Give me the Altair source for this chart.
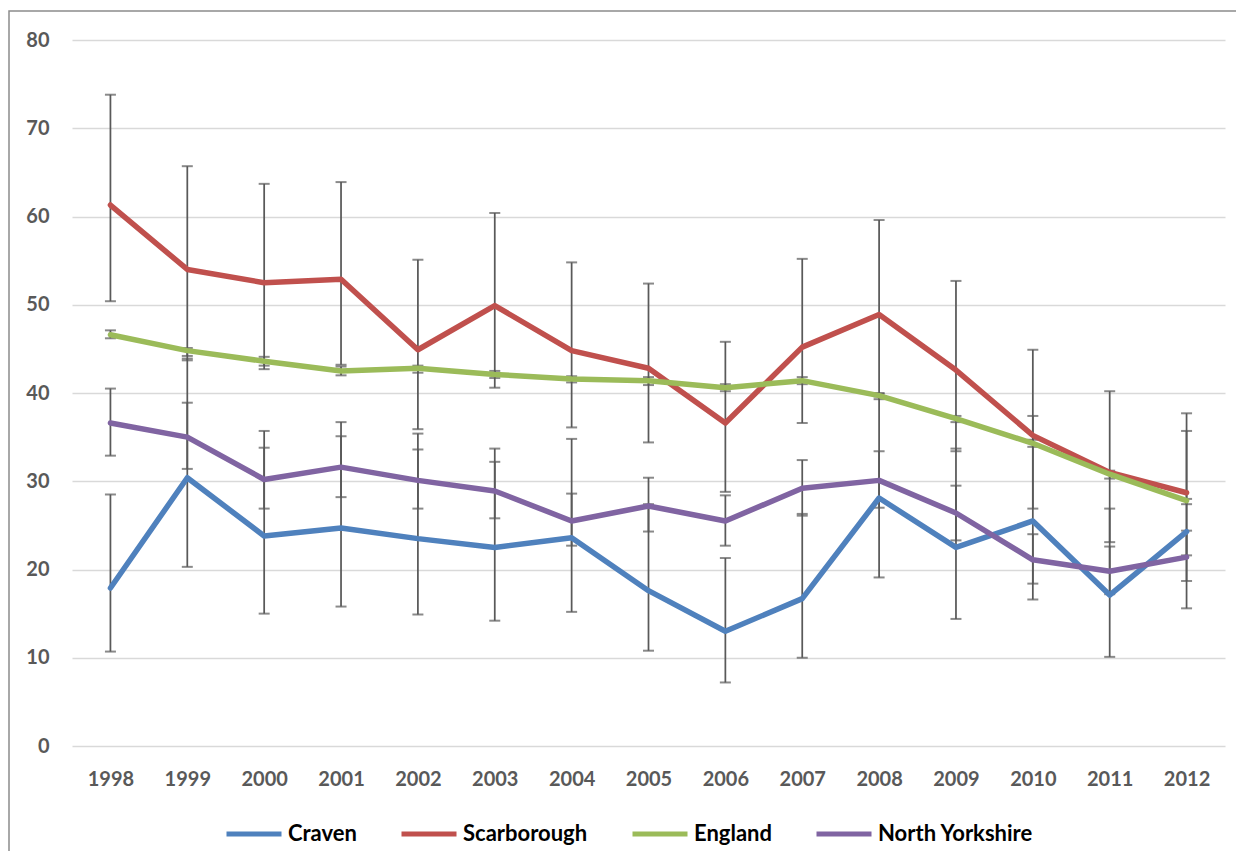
import altair as alt
import pandas as pd

years = [str(y) for y in range(1998, 2013)]
series_names = ["Craven", "Scarborough", "England", "North Yorkshire"]
series_colors = ["#4f81bd", "#c0504d", "#9bbb59", "#8064a2"]

craven = [17.9, 30.4, 23.8, 24.7, 23.5, 22.5, 23.6, 17.6, 13.0, 16.7, 28.1, 22.5, 25.5, 17.1, 24.3]
craven_lo = [10.7, 20.3, 15.0, 15.8, 14.9, 14.2, 15.2, 10.8, 7.2, 10.0, 19.1, 14.4, 16.6, 10.1, 15.6]
craven_hi = [28.5, 43.9, 35.7, 36.7, 35.4, 33.7, 34.8, 27.4, 21.3, 26.3, 39.6, 33.7, 37.4, 26.9, 35.7]

scarb = [61.3, 54.0, 52.5, 52.9, 44.9, 49.9, 44.8, 42.8, 36.6, 45.2, 48.9, 42.6, 35.2, 31.0, 28.7]
scarb_lo = [50.4, 43.7, 42.7, 43.2, 35.9, 40.6, 36.1, 34.4, 28.8, 36.6, 39.9, 33.4, 26.9, 23.1, 21.6]
scarb_hi = [73.8, 65.7, 63.7, 63.9, 55.1, 60.4, 54.8, 52.4, 45.8, 55.2, 59.6, 52.7, 44.9, 40.2, 37.7]

england = [46.6, 44.8, 43.6, 42.5, 42.8, 42.1, 41.6, 41.4, 40.6, 41.4, 39.7, 37.1, 34.3, 30.8, 27.8]
england_lo = [46.2, 44.2, 43.1, 42.0, 42.3, 41.7, 41.2, 40.9, 40.2, 41.0, 39.3, 36.7, 33.9, 30.3, 27.4]
england_hi = [47.1, 45.1, 44.1, 43.0, 43.1, 42.5, 41.9, 41.8, 41.0, 41.8, 40.0, 37.4, 34.7, 31.2, 28.0]

nyorks = [36.6, 35.0, 30.2, 31.6, 30.1, 28.9, 25.5, 27.2, 25.5, 29.2, 30.1, 26.4, 21.1, 19.8, 21.4]
nyorks_lo = [32.9, 31.4, 26.9, 28.2, 26.9, 25.8, 22.7, 24.3, 22.7, 26.1, 27.0, 23.3, 18.4, 17.2, 18.7]
nyorks_hi = [40.5, 38.9, 33.8, 35.1, 33.6, 32.2, 28.6, 30.4, 28.4, 32.4, 33.4, 29.5, 24.0, 22.6, 24.4]

y_ticks = list(range(0, 81, 10))

rows = []
for name, vals, lo, hi in [
    ("Craven", craven, craven_lo, craven_hi),
    ("Scarborough", scarb, scarb_lo, scarb_hi),
    ("England", england, england_lo, england_hi),
    ("North Yorkshire", nyorks, nyorks_lo, nyorks_hi),
]:
    for yr, v, l, h in zip(years, vals, lo, hi):
        rows.append({"year": yr, "series": name, "value": v, "lower": l, "upper": h})
df = pd.DataFrame(rows)

W, H = 1153, 706
ERR = "#595959"

x_enc = alt.X(
    "year:N",
    sort=years,
    scale=alt.Scale(type="point", padding=0.5),
    axis=alt.Axis(
        title=None, labelAngle=0, grid=False, domain=False, ticks=False, tickSize=0,
        labelPadding=23, labelFont="Lato", labelFontSize=20, labelFontWeight="bold",
        labelColor="#595959",
    ),
)
y_scale = alt.Scale(domain=[0, 80], nice=False, zero=True)
y_axis = alt.Axis(
    title=None, values=y_ticks, grid=True, gridColor="#d9d9d9", gridWidth=1.3,
    domain=False, ticks=False, tickSize=0, labelPadding=23, labelFont="Lato",
    labelFontSize=20, labelFontWeight="bold", labelColor="#595959",
)

base = alt.Chart(df)

rules = base.mark_rule(color=ERR, strokeWidth=1.75).encode(
    x=x_enc,
    y=alt.Y("lower:Q", scale=y_scale, axis=y_axis),
    y2="upper:Q",
)
caps_lo = base.mark_tick(color=ERR, size=11, thickness=2).encode(
    x=x_enc, y=alt.Y("lower:Q", scale=y_scale, axis=y_axis)
)
caps_hi = base.mark_tick(color=ERR, size=11, thickness=2).encode(
    x=x_enc, y=alt.Y("upper:Q", scale=y_scale, axis=y_axis)
)

lines = base.mark_line(strokeWidth=5.5, strokeCap="round", strokeJoin="round").encode(
    x=x_enc,
    y=alt.Y("value:Q", scale=y_scale, axis=y_axis),
    color=alt.Color(
        "series:N",
        scale=alt.Scale(domain=series_names, range=series_colors),
        sort=series_names,
        legend=alt.Legend(
            title=None, orient="none", legendX=152, legendY=764, direction="horizontal",
            columns=4, symbolType="stroke", symbolSize=3025, symbolStrokeWidth=5,
            labelFont="Lato", labelFontSize=22, labelFontWeight="bold", labelColor="black",
            columnPadding=34, labelOffset=4, padding=0, labelLimit=300,
        ),
    ),
)

border = alt.Chart(alt.Data(values=[{"a": 1}])).mark_rect(
    fillOpacity=0, stroke="#8c8c8c", strokeWidth=1.5
).encode(
    x=alt.value(-63), x2=alt.value(W + 100), y=alt.value(-29), y2=alt.value(H + 200)
)

chart = (
    alt.layer(rules, caps_lo, caps_hi, lines, border)
    .properties(
        width=W,
        height=H,
        autosize=alt.AutoSizeParams(type="none"),
        padding={"left": 64, "top": 32, "right": 11, "bottom": 105},
        background="white",
    )
    .configure_view(strokeWidth=0)
)

chart.save("out.html", embed_options={"renderer": "svg", "actions": False})
